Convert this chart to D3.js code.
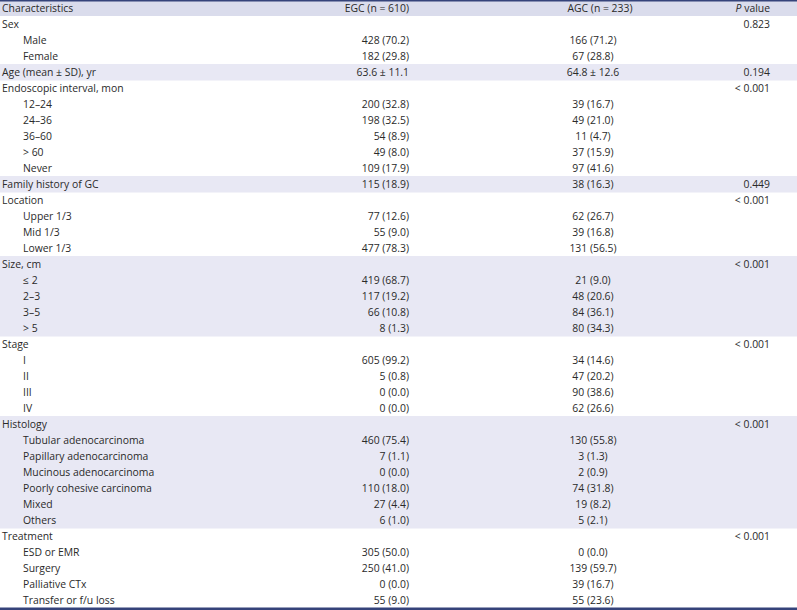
<!DOCTYPE html>
<html>
<head>
<meta charset="utf-8">
<script src="https://cdn.jsdelivr.net/npm/d3@7"></script>
<style>
  body { margin: 0; background: #fff; }
  svg text { font-family: "Open Sans", "Noto Sans", sans-serif; font-size: 10.4px; fill: #2a2a2a; }
</style>
</head>
<body>
<svg width="797" height="610"></svg>
<script>
var headers = ["Characteristics", "EGC (n = 610)", "AGC (n = 233)", "P value"];

var characteristics = ["Sex", "Male", "Female", "Age (mean ± SD), yr", "Endoscopic interval, mon",
	"12–24", "24–36", "36–60", "> 60", "Never", "Family history of GC", "Location", "Upper 1/3",
	"Mid 1/3", "Lower 1/3", "Size, cm", "≤ 2", "2–3", "3–5", "> 5", "Stage", "I", "II", "III", "IV",
	"Histology", "Tubular adenocarcinoma", "Papillary adenocarcinoma", "Mucinous adenocarcinoma",
	"Poorly cohesive carcinoma", "Mixed", "Others", "Treatment", "ESD or EMR", "Surgery",
	"Palliative CTx", "Transfer or f/u loss"];

// 1 = sub-item of the previous heading
var isSub = [0, 1, 1, 0, 0, 1, 1, 1, 1, 1, 0, 0, 1, 1, 1, 0, 1, 1, 1, 1, 0, 1, 1, 1, 1,
	0, 1, 1, 1, 1, 1, 1, 0, 1, 1, 1, 1];

var egc = ["", "428 (70.2)", "182 (29.8)", "63.6 ± 11.1", "", "200 (32.8)", "198 (32.5)", "54 (8.9)",
	"49 (8.0)", "109 (17.9)", "115 (18.9)", "", "77 (12.6)", "55 (9.0)", "477 (78.3)", "", "419 (68.7)",
	"117 (19.2)", "66 (10.8)", "8 (1.3)", "", "605 (99.2)", "5 (0.8)", "0 (0.0)", "0 (0.0)", "",
	"460 (75.4)", "7 (1.1)", "0 (0.0)", "110 (18.0)", "27 (4.4)", "6 (1.0)", "", "305 (50.0)",
	"250 (41.0)", "0 (0.0)", "55 (9.0)"];

var agc = ["", "166 (71.2)", "67 (28.8)", "64.8 ± 12.6", "", "39 (16.7)", "49 (21.0)", "11 (4.7)",
	"37 (15.9)", "97 (41.6)", "38 (16.3)", "", "62 (26.7)", "39 (16.8)", "131 (56.5)", "", "21 (9.0)",
	"48 (20.6)", "84 (36.1)", "80 (34.3)", "", "34 (14.6)", "47 (20.2)", "90 (38.6)", "62 (26.6)", "",
	"130 (55.8)", "3 (1.3)", "2 (0.9)", "74 (31.8)", "19 (8.2)", "5 (2.1)", "", "0 (0.0)",
	"139 (59.7)", "39 (16.7)", "55 (23.6)"];

var pValues = ["0.823", "", "", "0.194", "< 0.001", "", "", "", "", "", "0.449", "< 0.001", "", "",
	"", "< 0.001", "", "", "", "", "< 0.001", "", "", "", "", "< 0.001", "", "", "", "", "", "",
	"< 0.001", "", "", "", ""];

var svg = d3.select("svg"),
	width = +svg.attr("width"),
	height = +svg.attr("height");

// rows: header + data rows
var rows = [];
var group = -1;
for (var i = 0; i < characteristics.length; i++) {
	if (!isSub[i]) group++;
	rows.push({
		label: characteristics[i],
		sub: isSub[i],
		egc: egc[i],
		agc: agc[i],
		p: pValues[i],
		group: group
	});
}

var y = d3.scaleBand()
	.domain(d3.range(rows.length + 1))
	.range([0, 608]);

var colX = {
	label: 2,
	sub: 23,
	egc: 409,
	agcHead: 600,
	agc: 593,
	p: 770
};

// header band
svg.append("rect")
	.attr("x", 0)
	.attr("y", 0)
	.attr("width", width)
	.attr("height", y.bandwidth())
	.attr("fill", "#dadcec");

// shaded groups (every other group)
svg.selectAll(".band")
	.data(rows.filter(function(d) { return d.group % 2 == 1; }))
	.enter().append("rect")
	.attr("class", "band")
	.attr("x", 0)
	.attr("y", function(d) { return y(rows.indexOf(d) + 1); })
	.attr("width", width)
	.attr("height", y.bandwidth() + 0.5)
	.attr("fill", "#e8e8f4");

// top / bottom rules
svg.append("rect")
	.attr("x", 0).attr("y", 0)
	.attr("width", width).attr("height", 1.5)
	.attr("fill", "#35437a");
svg.append("rect")
	.attr("x", 0).attr("y", 607.5)
	.attr("width", width).attr("height", 2.5)
	.attr("fill", "#35437a");

var mid = function(i) { return y(i) + y.bandwidth() / 2; };

// header text
var head = svg.append("g").attr("class", "head");
head.append("text")
	.attr("x", colX.label).attr("y", mid(0)).attr("dy", "0.35em")
	.text(headers[0]);
head.append("text")
	.attr("x", colX.egc).attr("y", mid(0)).attr("dy", "0.35em")
	.attr("text-anchor", "end")
	.text(headers[1]);
head.append("text")
	.attr("x", colX.agcHead).attr("y", mid(0)).attr("dy", "0.35em")
	.attr("text-anchor", "middle")
	.text(headers[2]);
var pt = head.append("text")
	.attr("x", colX.p).attr("y", mid(0)).attr("dy", "0.35em")
	.attr("text-anchor", "end");
pt.append("tspan").attr("font-style", "italic").text("P");
pt.append("tspan").text(" " + headers[3].slice(2));

var row = svg.selectAll(".row")
	.data(rows)
	.enter().append("g")
	.attr("class", "row")
	.attr("transform", function(d, i) { return "translate(0," + mid(i + 1) + ")"; });

row.append("text")
	.attr("x", function(d) { return d.sub ? colX.sub : colX.label; })
	.attr("dy", "0.35em")
	.text(function(d) { return d.label; });

row.append("text")
	.attr("x", colX.egc)
	.attr("dy", "0.35em")
	.attr("text-anchor", "end")
	.text(function(d) { return d.egc; });

row.append("text")
	.attr("x", colX.agc)
	.attr("dy", "0.35em")
	.attr("text-anchor", "middle")
	.text(function(d) { return d.agc; });

row.append("text")
	.attr("x", colX.p)
	.attr("dy", "0.35em")
	.attr("text-anchor", "end")
	.text(function(d) { return d.p; });
</script>
</body>
</html>
